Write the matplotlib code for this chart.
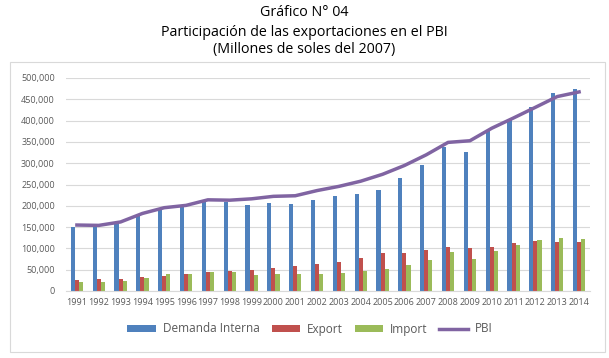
import numpy as np
import matplotlib.pyplot as plt
from matplotlib.patches import Rectangle
from matplotlib.ticker import FuncFormatter

years = [str(y) for y in range(1991, 2015)]
demanda = [149600, 152000, 158000, 177000, 193000, 198000, 210000, 210000, 203000, 206000,
           205000, 214000, 222000, 228500, 238000, 265000, 296000, 337000, 326000, 377000,
           403000, 433000, 465000, 474000]
export = [26000, 27000, 27000, 33000, 35000, 39000, 45000, 47000, 49000, 55000,
          59000, 63000, 68000, 77000, 90000, 90000, 96000, 104000, 102000, 104000,
          112000, 117000, 116000, 114000]
imports = [21000, 22000, 23000, 30000, 39000, 39000, 45000, 45000, 38000, 39000,
           40000, 41000, 43000, 47000, 52000, 61000, 73000, 91000, 76000, 95000,
           108000, 120000, 124000, 121000]
pbi = [154854, 154017, 162093, 182044, 195536, 201009, 214028, 213190, 216377, 222207,
       223580, 235773, 245593, 257770, 273971, 294598, 319693, 348870, 352693, 382081,
       406256, 431199, 456435, 467308]

plt.rcParams['font.family'] = ['Open Sans', 'DejaVu Sans']

fig = plt.figure(figsize=(6.09, 3.58), dpi=100)
ax = fig.add_axes([66/609, 1 - 291/358, 524/609, 213/358])

# chart frame
fig.patches.append(Rectangle((10/609, 6/358), 595/609, 290/358, transform=fig.transFigure,
                             fill=False, edgecolor='#d9d9d9', linewidth=0.8))

x = np.arange(len(years))
w = 0.19
b1 = ax.bar(x - w, demanda, w, color='#4F81BD', label='Demanda Interna', zorder=2)
b2 = ax.bar(x, export, w, color='#C0504D', label='Export', zorder=2)
b3 = ax.bar(x + w, imports, w, color='#9BBB59', label='Import', zorder=2)
l1, = ax.plot(x, pbi, color='#8064A2', linewidth=2.5, label='PBI', zorder=3)

ax.set_xlim(-0.5, len(years) - 0.5)
ax.set_ylim(0, 500000)
ax.set_yticks(np.arange(0, 500001, 50000))
ax.yaxis.set_major_formatter(FuncFormatter(lambda v, p: f'{int(v):,}'))
ax.set_xticks(x)
ax.set_xticklabels(years)
ax.tick_params(axis='both', length=0, labelsize=6.5, colors='#595959')
ax.tick_params(axis='y', pad=8)
ax.tick_params(axis='x', pad=5)
ax.grid(axis='y', color='#d9d9d9', linewidth=0.8, zorder=0)
for s in ['top', 'right', 'left']:
    ax.spines[s].set_visible(False)
ax.spines['bottom'].set_color('#d9d9d9')

fig.text(0.5, 1 - 13/358, 'Gráfico N° 04', ha='center', va='center', fontsize=10.3)
fig.text(0.5, 1 - 32/358, 'Participación de las exportaciones en el PBI', ha='center', va='center', fontsize=10.3)
fig.text(0.5, 1 - 50/358, '(Millones de soles del 2007)', ha='center', va='center', fontsize=10.3)

leg = fig.legend([b1, b2, b3, l1], ['Demanda Interna', 'Export', 'Import', 'PBI'],
                 loc='center', bbox_to_anchor=(310/609, 1 - 329/358), ncol=4, frameon=False,
                 fontsize=8.5, handlelength=2.4, handleheight=0.5, columnspacing=1.0, handletextpad=0.6)
for t in leg.get_texts():
    t.set_color('#595959')

fig.savefig('out.png', dpi=100)
